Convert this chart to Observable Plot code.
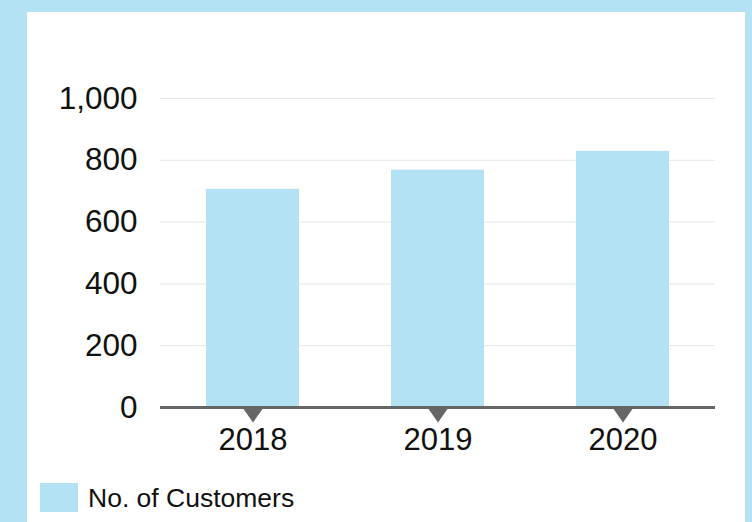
<!DOCTYPE html>
<html>
<head>
<meta charset="utf-8">
<script src="https://cdn.jsdelivr.net/npm/d3@7"></script>
<script src="https://cdn.jsdelivr.net/npm/@observablehq/plot@0.6"></script>
<style>
  html, body { margin: 0; padding: 0; }
  body { width: 752px; height: 522px; background: #b4e2f5; position: relative; overflow: hidden; font-family: "Liberation Sans", Arial, Helvetica, sans-serif; }
  #panel { position: absolute; left: 27px; top: 12px; width: 718px; height: 510px; background: #fff; }
  #chart { position: absolute; left: 0; top: 0; }
  #legend { position: absolute; left: 40px; top: 482px; display: flex; align-items: center; }
  #legend .sw { width: 38px; height: 29px; background: #b4e2f5; }
  #legend .lb { margin-left: 10px; font-size: 26.5px; color: #111; position: relative; top: 1px; }
</style>
</head>
<body>
<div id="panel"></div>
<div id="chart"></div>
<div id="legend"><div class="sw"></div><div class="lb"></div></div>
<script>
const years = ["2018", "2019", "2020"];
const customers = [706, 768, 829];
const yTicks = [0, 200, 400, 600, 800, 1000];
const seriesName = "No. of Customers";

const barColor = "#b4e2f5";
const data = years.map((y, i) => ({year: y, value: customers[i]}));

const downTriangle = {
  draw(context) {
    context.moveTo(-10.5, 0);
    context.lineTo(10.5, 0);
    context.lineTo(0, 15);
    context.closePath();
  }
};

const chart = Plot.plot({
  width: 752,
  height: 470,
  marginLeft: 160,
  marginRight: 37,
  marginTop: 98,
  marginBottom: 63,
  style: {fontFamily: "'Liberation Sans', Arial, Helvetica, sans-serif", fontSize: "31px", color: "#111", background: "transparent", overflow: "visible"},
  x: {domain: years, paddingInner: 0.5, paddingOuter: 0.25, label: null},
  y: {domain: [0, 1000], label: null},
  marks: [
    Plot.ruleY(yTicks.filter(d => d > 0), {stroke: "#e6e6e6", strokeWidth: 1}),
    Plot.axisY({ticks: yTicks, tickSize: 0, tickPadding: 23, tickFormat: d3.format(","), fontSize: 31.5, label: null}),
    Plot.barY(data, {x: "year", y: "value", fill: barColor}),
    Plot.ruleY([0], {stroke: "#666", strokeWidth: 3}),
    Plot.dot(years, {x: d => d, y: () => 0, symbol: downTriangle, fill: "#666", stroke: null, r: 5}),
    Plot.axisX({tickSize: 0, tickPadding: 20, fontSize: 31, label: null})
  ]
});
document.getElementById("chart").appendChild(chart);
document.querySelector("#legend .lb").textContent = seriesName;
</script>
</body>
</html>
